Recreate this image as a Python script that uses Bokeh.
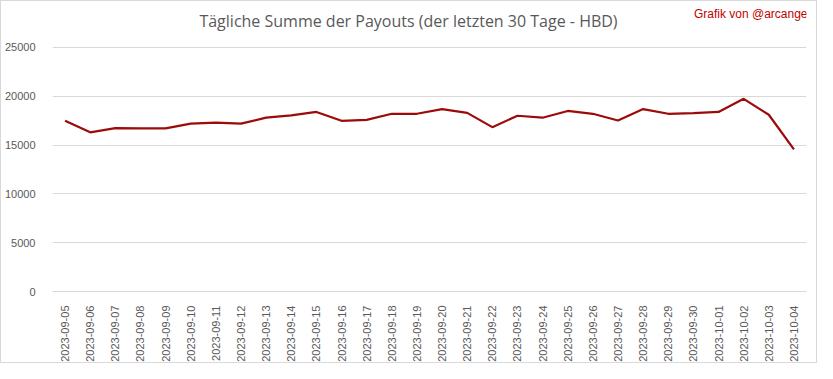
from math import pi
from bokeh.plotting import figure
from bokeh.models import Range1d, FixedTicker, Label
from bokeh.embed import file_html
from bokeh.resources import INLINE

dates = ["2023-09-05", "2023-09-06", "2023-09-07", "2023-09-08", "2023-09-09",
         "2023-09-10", "2023-09-11", "2023-09-12", "2023-09-13", "2023-09-14",
         "2023-09-15", "2023-09-16", "2023-09-17", "2023-09-18", "2023-09-19",
         "2023-09-20", "2023-09-21", "2023-09-22", "2023-09-23", "2023-09-24",
         "2023-09-25", "2023-09-26", "2023-09-27", "2023-09-28", "2023-09-29",
         "2023-09-30", "2023-10-01", "2023-10-02", "2023-10-03", "2023-10-04"]
payouts = [17480, 16300, 16730, 16700, 16700, 17190, 17290, 17190, 17800, 18030,
           18390, 17480, 17580, 18200, 18200, 18680, 18290, 16830, 18000, 17800,
           18490, 18200, 17510, 18680, 18200, 18260, 18390, 19730, 18100, 14550]
y_ticks = [0, 5000, 10000, 15000, 20000, 25000]

title_text = "Tägliche Summe der Payouts (der letzten 30 Tage - HBD)"
credit_text = "Grafik von @arcange"

W, H = 817, 363
# range top leaves head room inside the frame for the title texts
p = figure(width=W, height=H, x_range=dates, y_range=Range1d(0, 29700),
           output_backend="svg", toolbar_location=None, tools="")
p.min_border_left = 50
p.min_border_right = 12
p.min_border_top = 0
p.min_border_bottom = 66
p.outline_line_color = None
p.background_fill_color = "white"
p.border_fill_color = "white"
p.styles = {"border": "1px solid #d9d9d9", "box-sizing": "border-box"}

p.line(x=dates, y=payouts, line_color="#9c0a0a", line_width=2.2)

p.xgrid.grid_line_color = None
p.ygrid.grid_line_color = "#d9d9d9"
p.ygrid.grid_line_width = 1

p.yaxis.ticker = FixedTicker(ticks=y_ticks)
p.yaxis.axis_line_color = None
p.yaxis.major_tick_line_color = None
p.yaxis.minor_tick_line_color = None
p.yaxis.major_label_text_color = "#595959"
p.yaxis.major_label_text_font = "Liberation Sans"
p.yaxis.major_label_text_font_size = "11px"
p.yaxis.major_label_standoff = 11

p.xaxis.axis_line_color = "#d9d9d9"
p.xaxis.major_tick_line_color = None
p.xaxis.minor_tick_line_color = None
p.xaxis.major_label_orientation = pi / 2
p.xaxis.major_label_text_color = "#595959"
p.xaxis.major_label_text_font = "Liberation Sans"
p.xaxis.major_label_text_font_size = "11px"
p.xaxis.major_label_standoff = 8

p.add_layout(Label(x=356, y=271, x_units="screen", y_units="screen",
                   text=title_text, text_align="center", text_baseline="middle",
                   text_font="Open Sans", text_font_size="16px",
                   text_color="#595959"))
p.add_layout(Label(x=755, y=278, x_units="screen", y_units="screen",
                   text=credit_text, text_align="right", text_baseline="middle",
                   text_font="Liberation Sans", text_font_size="12px",
                   text_color="#c00000"))

open("out.html", "w").write(file_html(p, INLINE))
